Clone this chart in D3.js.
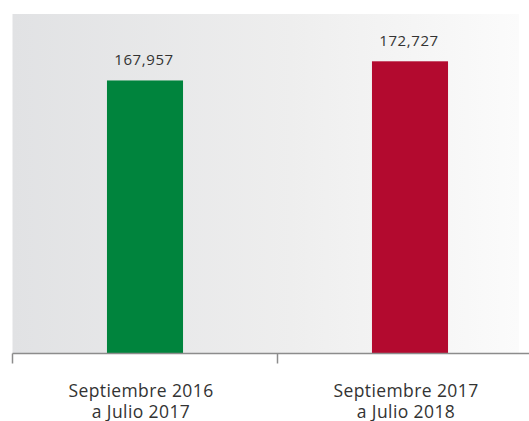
<!DOCTYPE html>
<html>
<head>
<meta charset="utf-8">
<script src="https://cdn.jsdelivr.net/npm/d3@7"></script>
<style>
  body { margin: 0; background: #fff; }
  svg { display: block; font-family: "Open Sans", "Noto Sans", sans-serif; }
</style>
</head>
<body>
<div id="chart"></div>
<script>
// data
var periods = ["Septiembre 2016|a Julio 2017", "Septiembre 2017|a Julio 2018"];
var values = [167957, 172727];
var barColors = ["#00843d", "#b30a2f"];

var W = 529, H = 421;
var plot = {left: 12.5, right: 542.5, top: 14, bottom: 353.5};

var svg = d3.select("#chart").append("svg")
  .attr("width", W)
  .attr("height", H);

// background gradient, dark on the left
var grad = svg.append("defs").append("linearGradient")
  .attr("id", "bg")
  .attr("x1", "0%").attr("x2", "100%")
  .attr("y1", "0%").attr("y2", "0%");
grad.append("stop").attr("offset", "0%").attr("stop-color", "#e1e2e4");
grad.append("stop").attr("offset", "55%").attr("stop-color", "#eeeeee");
grad.append("stop").attr("offset", "100%").attr("stop-color", "#fbfbfb");

svg.append("rect")
  .attr("x", plot.left)
  .attr("y", plot.top)
  .attr("width", 519 - plot.left)
  .attr("height", plot.bottom - plot.top)
  .attr("fill", "url(#bg)");

var x = d3.scaleBand()
  .domain(periods)
  .range([plot.left, plot.right])
  .padding(0);

var y = d3.scaleLinear()
  .domain([100000, 184500])
  .range([plot.bottom, plot.top]);

var barW = x.bandwidth() * 0.287;

svg.selectAll(".bar")
  .data(values)
  .enter().append("rect")
  .attr("class", "bar")
  .attr("x", function(d, i) { return x(periods[i]) + x.bandwidth() / 2 - barW / 2; })
  .attr("y", function(d) { return y(d); })
  .attr("width", barW)
  .attr("height", function(d) { return plot.bottom - y(d); })
  .attr("fill", function(d, i) { return barColors[i]; });

// value labels
svg.selectAll(".val")
  .data(values)
  .enter().append("text")
  .attr("class", "val")
  .attr("x", function(d, i) { return x(periods[i]) + x.bandwidth() / 2 - 1; })
  .attr("y", function(d) { return y(d) - 15; })
  .attr("text-anchor", "middle")
  .attr("fill", "#333")
  .style("font-size", "15px")
  .style("letter-spacing", "0.6px")
  .text(function(d) { return d3.format(",")(d); });

// axis line, own ticks at band edges
var axis = svg.append("g")
  .attr("transform", "translate(0," + plot.bottom + ")")
  .call(d3.axisBottom(x).tickSize(10).tickFormat(""))
  .call(function(g) {
    g.select(".domain").attr("d", "M" + plot.left + ",0H" + W).attr("stroke", "#8c8c8c").attr("stroke-width", 1.5);
  });
axis.selectAll(".tick").remove();
axis.selectAll(".edge")
  .data([plot.left, x(periods[1])])
  .enter().append("line")
  .attr("x1", function(d) { return d; })
  .attr("x2", function(d) { return d; })
  .attr("y1", 0)
  .attr("y2", 10)
  .attr("stroke", "#8c8c8c")
  .attr("stroke-width", 1.5);

// category labels, two lines each
var cat = svg.selectAll(".cat")
  .data(periods)
  .enter().append("text")
  .attr("class", "cat")
  .attr("text-anchor", "middle")
  .attr("fill", "#333")
  .style("font-size", "17.5px")
  .style("letter-spacing", "0.4px")
  .attr("transform", function(d) { return "translate(" + (x(d) + x.bandwidth() / 2 - 4) + ",396.5)"; });

cat.selectAll("tspan")
  .data(function(d) { return d.split("|"); })
  .enter().append("tspan")
  .attr("x", 0)
  .attr("dy", function(d, i) { return i === 0 ? 0 : 21; })
  .text(function(d) { return d; });
</script>
</body>
</html>
